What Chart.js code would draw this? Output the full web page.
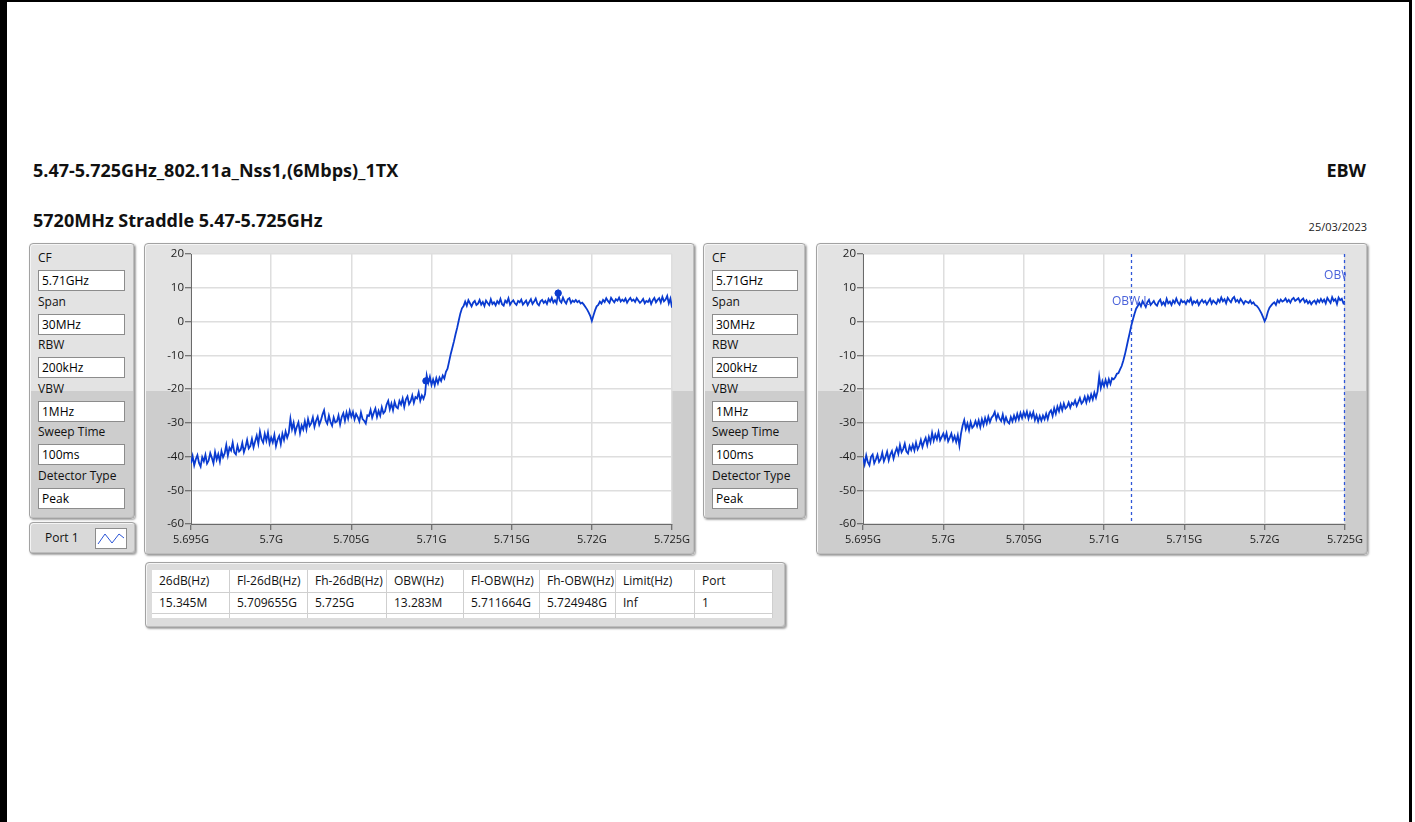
<!DOCTYPE html>
<html>
<head>
<meta charset="utf-8">
<script src="https://cdn.jsdelivr.net/npm/chart.js@4/dist/chart.umd.min.js"></script>
<style>
  html, body { margin: 0; padding: 0; background: #fff; }
  body { width: 1415px; height: 822px; position: relative; overflow: hidden;
         font-family: 'Open Sans', 'DejaVu Sans', sans-serif; color: #111; }
  .frame-l { position: absolute; left: 0; top: 0; width: 7px; height: 822px; background: #000; }
  .frame-t { position: absolute; left: 0; top: 0; width: 1412px; height: 2px; background: #000; }
  .frame-r { position: absolute; left: 1409px; top: 0; width: 3px; height: 822px; background: #000; }
  .title { position: absolute; font-weight: 700; font-size: 18px; line-height: 20px; white-space: nowrap; }
  .date { position: absolute; font-size: 11px; line-height: 14px; color: #222; }
  .panel { position: absolute; box-sizing: border-box; border: 1px solid #a2a2a2; border-radius: 4px;
           box-shadow: 1px 1px 2px rgba(0,0,0,0.35), inset 1px 1px 0 #f5f5f5, inset -1px -1px 0 #bdbdbd; }
  .split { background: linear-gradient(#e3e3e3 0, #e3e3e3 147px, #cdcdcd 147px, #cdcdcd 100%); }
  .flat { background: #dadada; }
  .plabel { position: absolute; left: 8px; font-size: 12px; line-height: 16px; color: #111; white-space: nowrap; }
  .pbox { position: absolute; left: 8px; width: 87px; height: 21px; box-sizing: border-box; background: #fff;
          border: 1px solid #8c8c8c; font-size: 12px; line-height: 19px; padding-left: 3px; color: #000; white-space: nowrap; }
  canvas.plot { position: absolute; }
  .tbl { position: absolute; left: 6px; top: 7px; width: 621px; height: 48px; background: #fff; overflow: hidden; }
  .cell { position: absolute; box-sizing: border-box; border-right: 1px solid #cfcfcf; border-bottom: 1px solid #cfcfcf;
          font-size: 12px; padding-left: 7px; white-space: nowrap; color: #111; }
</style>
</head>
<body>
<div class="frame-l"></div><div class="frame-t"></div><div class="frame-r"></div>

<div class="title" style="left:33px; top:160px;">5.47-5.725GHz_802.11a_Nss1,(6Mbps)_1TX</div>
<div class="title" style="right:49px; top:160px;">EBW</div>
<div class="title" style="left:33px; top:210px;">5720MHz Straddle 5.47-5.725GHz</div>
<div class="date" style="right:48px; top:220px;">25/03/2023</div>

<div id="paramsL" class="panel split" style="left:29px; top:243px; width:106px; height:276px;"></div>
<div id="paramsR" class="panel split" style="left:703px; top:243px; width:103px; height:276px;"></div>

<div class="panel split" style="left:144px; top:243px; width:551px; height:312px;"></div>
<canvas id="chartL" class="plot" width="551" height="312" style="left:144px; top:243px;"></canvas>

<div class="panel split" style="left:816px; top:243px; width:552px; height:312px;"></div>
<canvas id="chartR" class="plot" width="552" height="312" style="left:816px; top:243px;"></canvas>

<div class="panel flat" style="left:29px; top:522px; width:107px; height:32px; background:#d9d9d9;">
  <div style="position:absolute; left:15px; top:7px; font-size:12px; line-height:16px;">Port 1</div>
  <svg style="position:absolute; left:65px; top:5px;" width="32" height="21">
    <rect x="0.5" y="0.5" width="31" height="20" fill="#fff" stroke="#8c8c8c"/>
    <polyline points="3,16 10,6 17,15 24,6 29,10" fill="none" stroke="#2b55d6" stroke-width="1"/>
  </svg>
</div>

<div id="tablePanel" class="panel flat" style="left:145px; top:562px; width:641px; height:66px; background:#dcdcdc;">
  <div id="tbl" class="tbl"></div>
</div>

<script>
// Analyzer settings shown in both side panels
const paramNames  = ['CF', 'Span', 'RBW', 'VBW', 'Sweep Time', 'Detector Type'];
const paramValues = ['5.71GHz', '30MHz', '200kHz', '1MHz', '100ms', 'Peak'];

// Measurement results table
const tableHeaders = ['26dB(Hz)', 'Fl-26dB(Hz)', 'Fh-26dB(Hz)', 'OBW(Hz)', 'Fl-OBW(Hz)', 'Fh-OBW(Hz)', 'Limit(Hz)', 'Port'];
const tableRow     = ['15.345M', '5.709655G', '5.725G', '13.283M', '5.711664G', '5.724948G', 'Inf', '1'];

// Marker frequencies (GHz)
const fl26dBGHz   = 5.709655;
const obwEdgesGHz = [5.711664, 5.724948];
const obwLabels   = ['OBW L', 'OBW H'];

// Axis ticks
const freqTicksGHz   = [5.695, 5.7, 5.705, 5.71, 5.715, 5.72, 5.725];
const freqTickLabels = ['5.695G', '5.7G', '5.705G', '5.71G', '5.715G', '5.72G', '5.725G'];
const levelTicks     = [20, 10, 0, -10, -20, -30, -40, -50, -60];

// Sweep grid: 301 points, 0.1 MHz apart
const sweepStartGHz = 5.695;
const sweepStepGHz  = 0.0001;

// Trace levels (dBm), sweep used for the 26 dB bandwidth
const levelLeftDbm = [
  -42.0,-39.9,-42.6,-40.8,-39.6,-41.9,-43.0,-40.2,-41.4,-39.5,-42.1,
  -41.2,-39.0,-40.4,-42.0,-38.7,-40.9,-39.3,-41.5,-38.4,-40.2,
  -39.1,-36.6,-39.7,-37.4,-38.2,-35.9,-38.8,-39.4,-36.8,-38.5,
  -38.0,-36.0,-38.7,-37.2,-35.1,-37.6,-36.9,-34.8,-37.3,-35.5,
  -33.8,-36.2,-32.6,-34.9,-35.9,-33.3,-35.3,-32.9,-36.1,-34.4,
  -35.8,-33.6,-36.9,-35.0,-33.9,-36.3,-33.3,-35.1,-32.6,-34.4,
  -33.0,-28.8,-31.9,-30.0,-32.9,-31.2,-29.9,-33.1,-30.8,-32.0,
  -29.6,-31.9,-28.9,-30.9,-30.1,-28.4,-31.2,-29.4,-28.2,-30.6,
  -29.3,-27.6,-26.3,-29.3,-30.3,-27.9,-29.8,-30.9,-28.4,-29.9,
  -29.6,-27.8,-30.5,-28.3,-27.2,-29.4,-27.0,-28.8,-26.5,-28.2,
  -26.8,-29.0,-27.4,-28.3,-29.6,-27.0,-28.9,-29.4,-30.2,-27.8,
  -28.0,-26.2,-28.5,-27.0,-25.8,-28.3,-26.5,-27.9,-25.4,-27.2,
  -26.6,-24.6,-23.5,-26.0,-24.3,-26.3,-23.8,-25.3,-25.7,-23.5,
  -24.6,-22.8,-25.3,-23.1,-22.2,-24.5,-23.6,-21.9,-24.1,-22.4,
  -22.8,-21.0,-23.5,-21.9,-22.9,-21.5,-16.0,-18.2,-16.4,-18.8,
  -17.2,-18.9,-16.8,-18.3,-16.6,-17.6,-16.0,-16.9,-14.9,-14.0,
  -11.8,-9.6,-7.8,-5.9,-3.8,-1.9,0.3,2.4,3.9,4.6,
  5.9,4.7,6.3,5.4,4.5,5.6,6.1,4.9,5.3,6.4,
  5.0,5.8,4.6,6.2,5.5,4.9,6.6,5.2,5.7,4.8,
  6.0,5.3,6.7,5.1,4.7,6.2,5.6,6.9,5.0,5.8,
  6.3,5.4,4.9,6.1,5.7,6.5,5.0,5.6,6.2,4.9,
  5.8,6.6,5.2,5.9,6.8,5.3,4.8,6.0,6.4,5.5,
  6.1,5.2,6.7,5.9,7.0,5.6,6.3,5.4,8.4,6.2,
  5.6,7.1,6.0,5.3,6.6,6.9,5.5,6.2,5.8,6.4,
  5.7,6.1,5.3,5.6,5.0,
  4.3,3.6,2.7,1.7,0.2,1.8,3.3,4.5,4.9,5.9,
  5.3,6.4,5.8,6.9,6.1,5.5,7.0,6.3,5.7,6.6,
  6.2,7.1,5.9,6.5,6.0,6.8,5.6,6.4,7.0,6.1,
  6.5,5.8,6.9,6.2,5.5,6.0,6.7,5.4,6.1,5.8,
  6.6,5.2,6.3,7.0,5.7,6.4,6.9,5.6,7.3,6.0,
  6.5,7.6,5.4,6.8,4.1
];

// Trace levels (dBm), sweep used for the occupied bandwidth
const levelRightDbm = [
  -40.3,-42.3,-39.7,-41.7,-42.6,-40.1,-39.4,-42.0,-40.9,-39.5,-41.6,
  -40.8,-38.9,-41.4,-40.1,-38.6,-41.1,-39.4,-38.4,-40.6,-38.8,
  -37.5,-39.2,-36.6,-38.7,-37.8,-36.2,-38.5,-39.1,-36.9,-38.1,
  -36.5,-38.2,-35.9,-37.9,-36.9,-35.1,-37.2,-35.6,-34.5,-36.6,
  -34.2,-35.8,-33.0,-35.3,-33.5,-34.9,-32.8,-35.2,-34.2,-33.2,
  -34.8,-33.1,-35.5,-34.4,-33.2,-35.3,-34.0,-35.7,-33.7,-36.8,
  -33.2,-30.8,-29.2,-31.8,-30.2,-32.2,-29.8,-31.5,-30.9,-29.5,
  -31.0,-29.3,-31.3,-29.0,-30.7,-28.6,-30.2,-28.2,-29.8,-28.5,
  -27.9,-26.8,-29.0,-27.5,-28.8,-29.5,-27.6,-29.9,-28.4,-29.7,
  -30.2,-28.3,-29.6,-27.9,-29.3,-27.4,-29.0,-27.1,-28.6,-26.9,
  -28.2,-26.7,-28.8,-27.1,-28.4,-26.9,-29.2,-27.8,-29.6,-28.0,
  -29.4,-27.9,-29.0,-27.3,-28.9,-27.0,-26.3,-28.0,-25.7,-27.3,
  -25.2,-26.6,-24.6,-26.3,-24.3,-25.8,-25.3,-24.0,-25.5,-24.1,
  -24.6,-23.4,-25.0,-23.9,-22.7,-24.3,-23.7,-22.3,-24.0,-22.1,
  -23.4,-21.6,-23.1,-21.1,-22.6,-20.7,-16.3,-19.7,-17.7,-19.2,
  -17.3,-19.0,-17.1,-18.5,-16.8,-17.1,-16.5,-15.5,-15.3,-14.2,
  -13.2,-11.6,-9.8,-7.7,-5.5,-3.4,-1.2,0.6,2.3,3.8,
  4.6,5.5,4.5,6.0,5.2,4.3,5.7,6.4,4.9,5.5,
  6.1,5.1,4.7,5.9,6.5,5.0,5.7,4.8,6.7,5.4,
  5.9,4.9,6.2,5.5,6.8,5.6,5.0,6.4,5.7,6.0,
  5.2,6.3,5.8,6.9,5.1,6.0,5.5,6.2,4.9,5.8,
  6.4,5.6,6.1,5.1,5.9,6.7,5.3,6.2,5.7,5.2,
  6.5,5.8,7.1,6.0,6.6,5.4,7.0,6.3,5.7,6.8,
  7.3,5.9,6.4,5.6,6.7,6.0,5.2,6.1,5.8,5.5,
  6.2,5.3,5.7,4.9,4.7,
  4.1,3.3,2.4,1.3,0.1,1.1,2.9,4.1,4.7,5.3,
  5.7,4.9,6.3,5.6,6.5,5.9,6.2,6.8,5.8,6.4,
  5.6,6.6,7.0,6.1,6.5,6.9,5.8,6.4,6.8,5.7,
  6.3,5.4,6.0,5.1,5.8,6.2,5.3,6.4,5.7,6.7,
  5.8,6.5,5.4,7.0,6.2,5.5,7.2,6.1,6.6,5.2,
  7.1,6.3,6.7,5.4,6.0
];

const traceColor  = '#0a3bd0';
const markerColor = '#2f56d8';
const uiFont = "'Open Sans', 'DejaVu Sans', sans-serif";

// ---- side panels ----
function buildParams(id, boxWidth) {
  const host = document.getElementById(id);
  paramNames.forEach((name, i) => {
    const lab = document.createElement('div');
    lab.className = 'plabel';
    lab.style.top = (6 + i * 43.5) + 'px';
    lab.textContent = name;
    host.appendChild(lab);
    const box = document.createElement('div');
    box.className = 'pbox';
    box.style.top = (26 + i * 43.5) + 'px';
    box.style.width = boxWidth + 'px';
    box.textContent = paramValues[i];
    host.appendChild(box);
  });
}
buildParams('paramsL', 87);
buildParams('paramsR', 86);

// ---- results table ----
(function buildTable() {
  const host = document.getElementById('tbl');
  const colW = [78, 78, 79, 77, 76, 76, 79, 78];
  let x = 0;
  colW.forEach((w, c) => {
    [[tableHeaders[c], 0, 23], [tableRow[c], 23, 21], ['', 44, 8]].forEach(([txt, top, h]) => {
      const d = document.createElement('div');
      d.className = 'cell';
      d.style.left = x + 'px'; d.style.top = top + 'px';
      d.style.width = w + 'px'; d.style.height = h + 'px';
      d.style.lineHeight = (h - 1) + 'px';
      d.textContent = txt;
      host.appendChild(d);
    });
    x += w;
  });
})();

// ---- charts ----
const freqsGHz = levelLeftDbm.map((_, i) => sweepStartGHz + i * sweepStepGHz);

const plotBg = {
  id: 'plotBg',
  beforeDraw(chart) {
    const { ctx, chartArea: a } = chart;
    ctx.save();
    ctx.fillStyle = '#ffffff';
    ctx.fillRect(a.left, a.top, a.right - a.left, a.bottom - a.top);
    ctx.restore();
  }
};

const obwMarkers = {
  id: 'obwMarkers',
  afterDatasetsDraw(chart, args, opts) {
    if (!opts.show) return;
    const { ctx, chartArea: a, scales } = chart;
    ctx.save();
    ctx.beginPath();
    ctx.rect(a.left, a.top - 1, a.right - a.left + 1, a.bottom - a.top + 2);
    ctx.clip();
    ctx.strokeStyle = markerColor;
    ctx.lineWidth = 1.3;
    ctx.setLineDash([3, 3]);
    obwEdgesGHz.forEach(f => {
      const x = Math.round(scales.x.getPixelForValue(f)) + 0.5;
      ctx.beginPath();
      ctx.moveTo(x, a.top);
      ctx.lineTo(x, a.bottom);
      ctx.stroke();
    });
    ctx.setLineDash([]);
    ctx.fillStyle = '#4a62da';
    ctx.font = '12px ' + uiFont;
    ctx.textAlign = 'center';
    ctx.textBaseline = 'middle';
    const labelLevels = [5.8, 13.5];
    obwEdgesGHz.forEach((f, i) => {
      ctx.fillText(obwLabels[i], scales.x.getPixelForValue(f), scales.y.getPixelForValue(labelLevels[i]));
    });
    ctx.restore();
  }
};

function makeChart(canvasId, levels, showObw, showPeakDots) {
  const trace = levels.map((v, i) => ({ x: freqsGHz[i], y: v }));
  const datasets = [{
    type: 'line', data: trace, borderColor: traceColor, borderWidth: 1.8,
    pointRadius: 0, tension: 0, order: 2
  }];
  if (showPeakDots) {
    let pk = 0;
    levels.forEach((v, i) => { if (v > levels[pk]) pk = i; });
    datasets.push({
      type: 'scatter',
      data: [{ x: freqsGHz[pk], y: levels[pk] }, { x: fl26dBGHz, y: levels[pk] - 26 }],
      pointRadius: 3.2, pointBackgroundColor: traceColor, pointBorderColor: traceColor,
      showLine: false, order: 1
    });
  }
  return new Chart(document.getElementById(canvasId), {
    data: { datasets },
    plugins: [plotBg, obwMarkers],
    options: {
      responsive: false,
      animation: false,
      events: [],
      layout: { padding: { top: 11, right: 23, left: 0, bottom: 0 } },
      plugins: { legend: { display: false }, tooltip: { enabled: false }, obwMarkers: { show: showObw } },
      scales: {
        x: {
          type: 'linear', min: freqTicksGHz[0], max: freqTicksGHz[freqTicksGHz.length - 1],
          afterBuildTicks: ax => { ax.ticks = freqTicksGHz.map(v => ({ value: v })); },
          afterFit: ax => { ax.height = 31; },
          ticks: {
            callback: (v, i) => freqTickLabels[i],
            color: '#1c1c1c', font: { family: uiFont, size: 11 }, padding: 3, maxRotation: 0, autoSkip: false
          },
          grid: { color: '#dedede', lineWidth: 1.5, tickLength: 6, tickColor: '#555', tickWidth: 1 },
          border: { display: true, color: '#6a6a6a', width: 1 }
        },
        y: {
          type: 'linear', min: levelTicks[levelTicks.length - 1], max: levelTicks[0],
          afterBuildTicks: ax => { ax.ticks = levelTicks.map(v => ({ value: v })); },
          afterFit: ax => { ax.width = 47; },
          ticks: {
            callback: v => String(v),
            color: '#1c1c1c', font: { family: uiFont, size: 11.5 }, padding: 1
          },
          grid: { color: '#dedede', lineWidth: 1.5, tickLength: 6, tickColor: '#555', tickWidth: 1 },
          border: { display: true, color: '#6a6a6a', width: 1 }
        }
      }
    }
  });
}

makeChart('chartL', levelLeftDbm, false, true);
makeChart('chartR', levelRightDbm, true, false);
</script>
</body>
</html>
